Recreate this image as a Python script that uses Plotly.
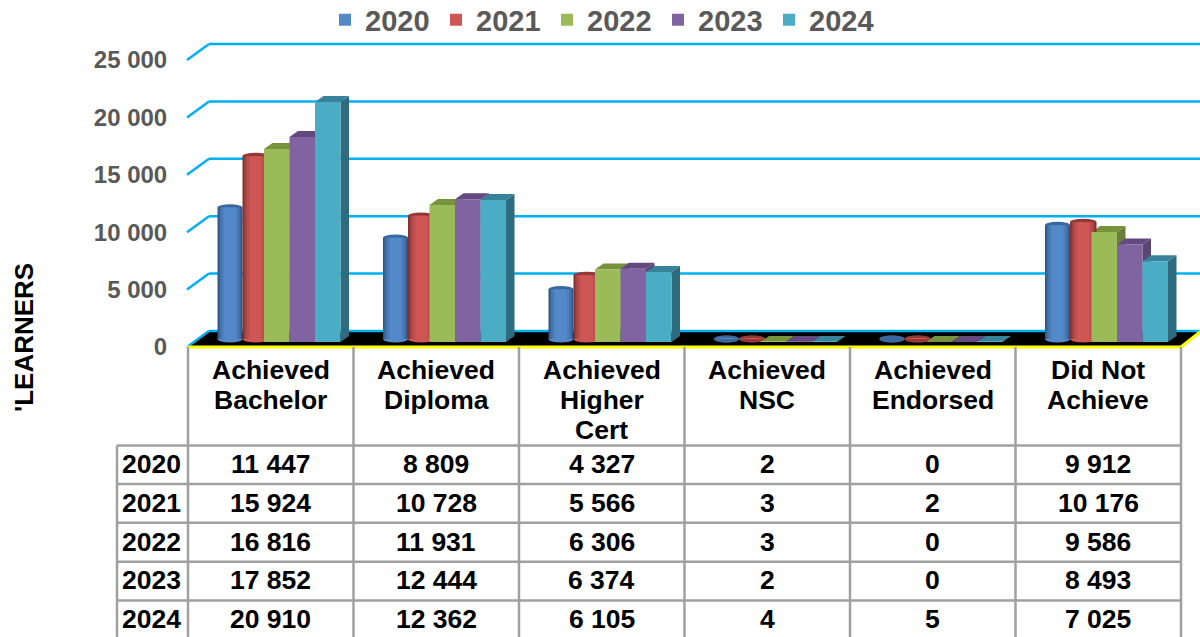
import plotly.graph_objects as go

CATEGORY_LINES = [["Achieved", "Bachelor"], ["Achieved", "Diploma"], ["Achieved", "Higher", "Cert"],
                  ["Achieved", "NSC"], ["Achieved", "Endorsed"], ["Did Not", "Achieve"]]
YEARS = ["2020", "2021", "2022", "2023", "2024"]
V2020 = [11447, 8809, 4327, 2, 0, 9912]
V2021 = [15924, 10728, 5566, 3, 2, 10176]
V2022 = [16816, 11931, 6306, 3, 0, 9586]
V2023 = [17852, 12444, 6374, 2, 0, 8493]
V2024 = [20910, 12362, 6105, 4, 5, 7025]
SERIES = [V2020, V2021, V2022, V2023, V2024]
Y_TICKS = [0, 5000, 10000, 15000, 20000, 25000]
Y_TICK_TEXT = ["0", "5 000", "10 000", "15 000", "20 000", "25 000"]

W, H = 1200, 637
COL_PX = 165.5
LEFT_PX = 188.0
PX_Y = 5000 / 57.4            # data units per vertical pixel
PX_X = 1 / COL_PX             # category units per horizontal pixel
ZERO_PY = 342.0
DOM_L, DOM_T, DOM_B = 186.0, 30.0, 352.0


def dx(px):
    return px * PX_X


def dy(px):
    return px * PX_Y


def xp(px):
    return -0.5 + (px - LEFT_PX) * PX_X


def ypaper(py):
    return 1 - py / H


def xpaper(px):
    return px / W


STYLE = [
    dict(kind="cyl", off=29.5, w=25.0, front="#5389C9", edge="#2F5583", top="#3A689E"),
    dict(kind="cyl", off=54.5, w=26.5, front="#CE5654", edge="#7E3130", top="#943836"),
    dict(kind="box", off=76.0, w=25.5, front="#9BBB59", side="#6A7F3B", top="#76923C"),
    dict(kind="box", off=101.5, w=25.5, front="#8064A2", side="#5A4673", top="#63497F"),
    dict(kind="box", off=127.0, w=25.5, front="#4BACC6", side="#2F6B7E", top="#38839A"),
]
DEPTH_X, DEPTH_Y = 8.5, 6.0
GRID = "#00B0F0"
TABLE_LINE = "#A0A0A0"
FONT = "Liberation Sans, Arial, sans-serif"


def mix(a, b, t):
    a = [int(a[i:i + 2], 16) for i in (1, 3, 5)]
    b = [int(b[i:i + 2], 16) for i in (1, 3, 5)]
    return "#%02X%02X%02X" % tuple(round(p + (q - p) * t) for p, q in zip(a, b))


fig = go.Figure()
shapes = []


def poly(points, color, line=None):
    path = "M" + " L".join(f"{x:.5f},{y:.2f}" for x, y in points) + " Z"
    shapes.append(dict(type="path", path=path, xref="x", yref="y", layer="below",
                       fillcolor=color, line=dict(width=0)))


# floor
poly([(xp(187), dy(-5)), (xp(209), dy(11)), (xp(1201), dy(11)), (xp(1181), dy(-5))], "#000000")

# gridlines: back wall + left wall
for v in Y_TICKS:
    yb = v + dy(11)
    yf = v + dy(-5)
    shapes.append(dict(type="line", xref="x", yref="y", layer="below",
                       x0=xp(209), x1=xp(1201), y0=yb, y1=yb, line=dict(color=GRID, width=2.5)))
    shapes.append(dict(type="line", xref="x", yref="y", layer="below",
                       x0=xp(187), x1=xp(209), y0=yf, y1=yb, line=dict(color=GRID, width=2.5)))

# yellow front floor edge
for a, b in [((187, -5), (1181, -5)), ((1181, -5), (1201, 11))]:
    shapes.append(dict(type="line", xref="x", yref="y", layer="above",
                       x0=xp(a[0]), x1=xp(b[0]), y0=dy(a[1]), y1=dy(b[1]),
                       line=dict(color="#FFFF00", width=3)))

# 3-D faces behind the fronts, then the fronts as bar traces
for vals, st, year in zip(SERIES, STYLE, YEARS):
    xs = list(range(len(vals)))
    for i, v in enumerate(vals):
        x0 = i - 0.5 + dx(st["off"])
        x1 = x0 + dx(st["w"])
        if st["kind"] == "box":
            ddx, ddy = dx(DEPTH_X), dy(DEPTH_Y)
            poly([(x1, 0), (x1 + ddx, ddy), (x1 + ddx, v + ddy), (x1, v)], st["side"])
            poly([(x0, v), (x1, v), (x1 + ddx, v + ddy), (x0 + ddx, v + ddy)], st["top"])
        else:
            for yc, col in ((dy(3), st["front"] if v > 100 else st["top"]), (v + dy(3), st["top"])):
                shapes.append(dict(type="circle", xref="x", yref="y", layer="below",
                                   x0=x0, x1=x1, y0=yc - dy(3.4), y1=yc + dy(3.4),
                                   fillcolor=col, line=dict(width=0)))
    common = dict(x=xs, y=vals, marker_line_width=0, hoverinfo="skip")
    center = dx(st["off"] + st["w"] / 2)
    if st["kind"] == "cyl":
        layers = [(1.0, 0.0), (0.9, 0.3), (0.8, 0.55), (0.66, 0.8), (0.46, 1.0)]
        base = [dy(3)] * len(vals)
        for k, (frac, t) in enumerate(layers):
            wid = dx(st["w"]) * frac
            last = k == len(layers) - 1
            fig.add_bar(**common, base=base, width=wid,
                        offset=-0.5 + center - wid / 2,
                        marker_color=mix(st["edge"], st["front"], t),
                        name=year if last else f"{year} shade {k}",
                        showlegend=last)
    else:
        fig.add_bar(**common, width=dx(st["w"]), offset=-0.5 + dx(st["off"]),
                    marker_color=st["front"], name=year)

# table rules
COL_EDGES = [LEFT_PX + COL_PX * i for i in range(7)]
ROW_EDGES = [445.5, 484.0, 522.7, 561.7, 600.5]
ROW_CENTERS = [464.5, 503, 541.5, 580, 618.5]
TBL_LEFT = 117.0
for px in COL_EDGES:
    shapes.append(dict(type="line", xref="paper", yref="paper", x0=xpaper(px), x1=xpaper(px),
                       y0=ypaper(347), y1=0, line=dict(color=TABLE_LINE, width=2.5)))
for py in ROW_EDGES:
    shapes.append(dict(type="line", xref="paper", yref="paper", x0=xpaper(TBL_LEFT), x1=xpaper(COL_EDGES[-1]),
                       y0=ypaper(py), y1=ypaper(py), line=dict(color=TABLE_LINE, width=2.5)))
shapes.append(dict(type="line", xref="paper", yref="paper", x0=xpaper(TBL_LEFT), x1=xpaper(TBL_LEFT),
                   y0=ypaper(445.5), y1=0, line=dict(color=TABLE_LINE, width=2.5)))

annotations = []


def label(px, py, text, size=26.5, color="#000000"):
    annotations.append(dict(xref="paper", yref="paper", x=xpaper(px), y=ypaper(py), text=f"<b>{text}</b>",
                            showarrow=False, xanchor="center", yanchor="middle",
                            font=dict(family=FONT, size=size, color=color)))


for c, lines in enumerate(CATEGORY_LINES):
    for n, line in enumerate(lines):
        label(LEFT_PX + COL_PX * (c + 0.5), 370 + 30 * n, line)
for r, (year, vals) in enumerate(zip(YEARS, SERIES)):
    label(151, ROW_CENTERS[r], year)
    for c, v in enumerate(vals):
        label(LEFT_PX + COL_PX * (c + 0.5), ROW_CENTERS[r], f"{v:,}".replace(",", " "))

annotations.append(dict(xref="paper", yref="paper", x=xpaper(24), y=ypaper(338), text="<b>'LEARNERS</b>",
                        textangle=-90, showarrow=False, xanchor="center", yanchor="middle",
                        font=dict(family=FONT, size=26, color="#000000")))

fig.update_layout(
    width=W, height=H, autosize=False, margin=dict(l=0, r=0, t=0, b=0, autoexpand=False),
    paper_bgcolor="white", plot_bgcolor="white",
    barmode="overlay", shapes=shapes, annotations=annotations,
    font=dict(family=FONT),
    legend=dict(orientation="h", xanchor="left", yanchor="middle", x=xpaper(325), y=ypaper(20),
                font=dict(family=FONT, size=29, color="#595959", weight="bold"),
                entrywidth=66, entrywidthmode="pixels", itemwidth=30,
                traceorder="normal", bgcolor="rgba(0,0,0,0)"),
    xaxis=dict(domain=[xpaper(DOM_L), 1], range=[xp(DOM_L), xp(W)], showgrid=False, zeroline=False,
               showline=False, showticklabels=False, ticks=""),
    yaxis=dict(domain=[ypaper(DOM_B), ypaper(DOM_T)],
               range=[(ZERO_PY - DOM_B) * PX_Y, (ZERO_PY - DOM_T) * PX_Y],
               showgrid=False, zeroline=False, showline=False,
               tickmode="array", tickvals=[v + dy(-5) for v in Y_TICKS], ticktext=Y_TICK_TEXT,
               ticks="outside", ticklen=13, tickcolor="rgba(0,0,0,0)",
               tickfont=dict(family=FONT, size=24, color="#595959", weight="bold")),
)

fig.write_html("out.html", config=dict(displayModeBar=False),
               post_script="document.body.style.margin='0';document.documentElement.style.overflow='hidden';")
